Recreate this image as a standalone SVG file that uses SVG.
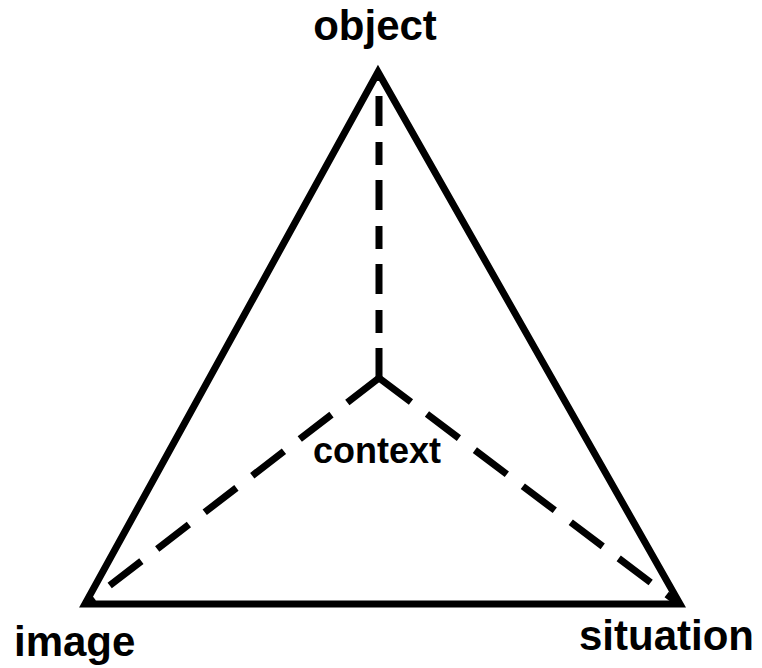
<svg xmlns="http://www.w3.org/2000/svg" width="762" height="668" viewBox="0 0 762 668">
<style>
.lbl{font-family:"Liberation Sans",Arial,sans-serif;font-weight:bold;fill:#000}
.edge{fill:none;stroke:#000;stroke-width:7;stroke-linejoin:miter}
.dash{fill:none;stroke:#000;stroke-width:7}
</style>
<rect width="762" height="668" fill="#fff"/>
<g id="connectors">
<path class="edge" d="M378,72 L85,604 L680,604 Z"/>
<path class="dash" stroke-dasharray="30 15 23 16" d="M379,378 L379,78"/>
<path class="dash" stroke-dasharray="40 20" d="M379,378 L87,603"/>
<path class="dash" stroke-dasharray="40 20" d="M379,378 L678,603"/>
</g>
<g id="object"><text class="lbl" x="375" y="40" font-size="42" text-anchor="middle">object</text></g>
<g id="context"><text class="lbl" x="377" y="463" font-size="36" text-anchor="middle">context</text></g>
<g id="image"><text class="lbl" x="14" y="656" font-size="42">image</text></g>
<g id="situation"><text class="lbl" x="579" y="650" font-size="42">situation</text></g>
</svg>
